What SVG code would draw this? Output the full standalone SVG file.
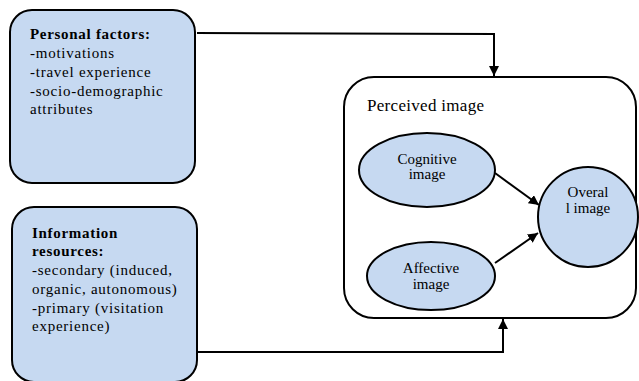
<svg xmlns="http://www.w3.org/2000/svg" width="639" height="381" viewBox="0 0 639 381">
  <defs>
    <marker id="arr" viewBox="0 0 10 10" refX="10" refY="5" markerWidth="5" markerHeight="5" orient="auto" markerUnits="strokeWidth">
      <path d="M0,0 L10,5 L0,10 z" fill="#000"/>
    </marker>
    <style>
      .box { fill: #c6d9f1; stroke: #000; stroke-width: 2; }
      .frame { fill: #fff; stroke: #000; stroke-width: 2; }
      .t { font-family: 'Liberation Serif', 'Tinos', 'Times New Roman', 'DejaVu Serif', serif; font-size: 15px; letter-spacing: 0.75px; fill: #000; }
      .b { font-weight: bold; letter-spacing: 0.7px; }
      .c { text-anchor: middle; letter-spacing: 0; }
      .link { fill: none; stroke: #000; stroke-width: 2; }
    </style>
  </defs>
  <rect width="639" height="381" fill="#fff"/>

  <g id="personal-factors">
    <rect class="box" x="10" y="10" width="185" height="173" rx="22"/>
    <text class="t b" x="30" y="39">Personal factors:</text>
    <text class="t" x="30" y="58">-motivations</text>
    <text class="t" x="30" y="77">-travel experience</text>
    <text class="t" x="30" y="96">-socio-demographic</text>
    <text class="t" x="30" y="114">attributes</text>
  </g>

  <g id="information-resources">
    <rect class="box" x="12" y="207" width="185" height="175" rx="22"/>
    <text class="t b" x="32" y="238">Information</text>
    <text class="t b" x="32" y="256">resources:</text>
    <text class="t" x="32" y="275">-secondary (induced,</text>
    <text class="t" x="32" y="294">organic, autonomous)</text>
    <text class="t" x="32" y="313">-primary (visitation</text>
    <text class="t" x="32" y="331">experience)</text>
  </g>

  <g id="perceived-image">
    <rect class="frame" x="344" y="77" width="292" height="241" rx="30"/>
    <text class="t" x="367" y="111" style="font-size:17px;letter-spacing:0.3px">Perceived image</text>
  </g>

  <g id="cognitive-image">
    <ellipse class="box" cx="427" cy="170" rx="68" ry="37"/>
    <text class="t c" x="427" y="164">Cognitive</text>
    <text class="t c" x="427" y="179">image</text>
  </g>

  <g id="affective-image">
    <ellipse class="box" cx="431" cy="276" rx="64" ry="34"/>
    <text class="t c" x="431" y="273">Affective</text>
    <text class="t c" x="431" y="289">image</text>
  </g>

  <g id="overall-image">
    <circle class="box" cx="588" cy="217" r="50"/>
    <text class="t c" x="588" y="197">Overal</text>
    <text class="t c" x="588" y="213">l image</text>
  </g>

  <g id="connectors">
    <path class="link" d="M197,33 L494,34 L494,76" marker-end="url(#arr)"/>
    <path class="link" d="M197,352 L503,352 L503,319" marker-end="url(#arr)"/>
    <path class="link" d="M495,173 L539,205" marker-end="url(#arr)"/>
    <path class="link" d="M495,263 L538,233" marker-end="url(#arr)"/>
  </g>
</svg>
